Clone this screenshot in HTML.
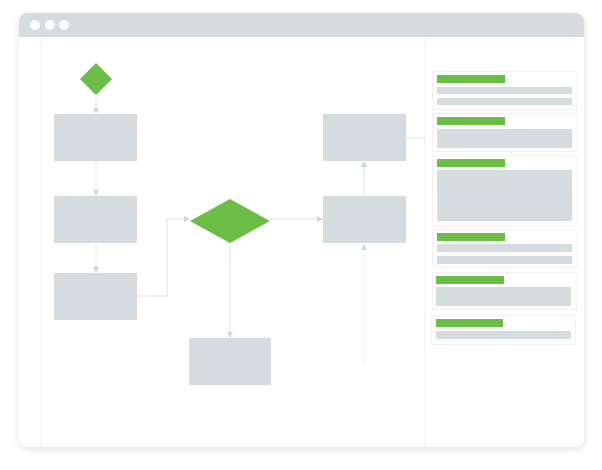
<!DOCTYPE html>
<html><head><style>body{margin:0;background:#fff;width:602px;height:465px;overflow:hidden}</style></head><body>
<svg width="602" height="465" xmlns="http://www.w3.org/2000/svg">
<defs>
<filter id="sh" x="-10%" y="-10%" width="120%" height="120%"><feDropShadow dx="0" dy="2" stdDeviation="4" flood-color="#000" flood-opacity="0.12"/></filter>
<marker id="a" markerWidth="6" markerHeight="6" refX="5" refY="3" orient="auto"><path d="M0,0 L6,3 L0,6z" fill="#cfd6da"/></marker>
</defs>
<rect x="19" y="13" width="565" height="434" rx="9" fill="#fff" filter="url(#sh)"/>
<path d="M19,37 V22 a9,9 0 0 1 9,-9 H575 a9,9 0 0 1 9,9 V37z" fill="#d5dcdf"/>
<circle cx="35" cy="25" r="5" fill="#fff"/><circle cx="50" cy="25" r="5" fill="#fff"/><circle cx="64" cy="25" r="5" fill="#fff"/>
<line x1="40.5" y1="38" x2="40.5" y2="447" stroke="#eef1f2"/>
<line x1="424.5" y1="38" x2="424.5" y2="447" stroke="#eef1f2"/>
<g stroke="#dde2e5" fill="none">
<line x1="96" y1="95" x2="96" y2="113" marker-end="url(#a)"/>
<line x1="96" y1="161" x2="96" y2="195" marker-end="url(#a)"/>
<line x1="96" y1="243" x2="96" y2="272" marker-end="url(#a)"/>
<polyline points="137,296 167,296 167,219 189,219" marker-end="url(#a)"/>
<line x1="270" y1="219" x2="322" y2="219" marker-end="url(#a)"/>
<line x1="230" y1="243" x2="230" y2="337" marker-end="url(#a)"/>
<line x1="364" y1="196" x2="364" y2="162" marker-end="url(#a)"/>
<line x1="364" y1="362" x2="364" y2="245" stroke-dasharray="3,5" marker-end="url(#a)"/>
<line x1="406" y1="138" x2="425" y2="138"/>
</g>
<polygon points="96,63 112,79 96,95 80,79" fill="#6abd45"/>
<polygon points="230,199 270,221 230,243 190,221" fill="#6abd45"/>
<g fill="#d5dcdf">
<rect x="54" y="114" width="83" height="47"/><rect x="54" y="196" width="83" height="47"/><rect x="54" y="273" width="83" height="47"/>
<rect x="189" y="338" width="82" height="47"/>
<rect x="323" y="114" width="83" height="47"/><rect x="323" y="196" width="83" height="47"/>
</g>
<g fill="#fff" stroke="#f0f2f3">
<rect x="432.5" y="71.5" width="144" height="38"/><rect x="432.5" y="113.5" width="144" height="38"/>
<rect x="432.5" y="155.5" width="144" height="70"/><rect x="432.5" y="229.5" width="144" height="38"/>
<rect x="432.5" y="272.5" width="144" height="37"/><rect x="431.5" y="315.5" width="144" height="29"/>
</g>
<g fill="#6abd45">
<rect x="437" y="75" width="68" height="8"/><rect x="437" y="117" width="68" height="8"/><rect x="437" y="159" width="68" height="8"/>
<rect x="437" y="233" width="68" height="8"/><rect x="436" y="276" width="68" height="8"/><rect x="436" y="319" width="67" height="8"/>
</g>
<g fill="#d5dcdf">
<rect x="437" y="87" width="135" height="7"/><rect x="437" y="98" width="135" height="7"/>
<rect x="437" y="129" width="135" height="19"/><rect x="437" y="170" width="135" height="51"/>
<rect x="437" y="244" width="135" height="8"/><rect x="437" y="256" width="135" height="8"/>
<rect x="436" y="287" width="135" height="19"/><rect x="436" y="331" width="135" height="8"/>
</g>
</svg>
</body></html>
